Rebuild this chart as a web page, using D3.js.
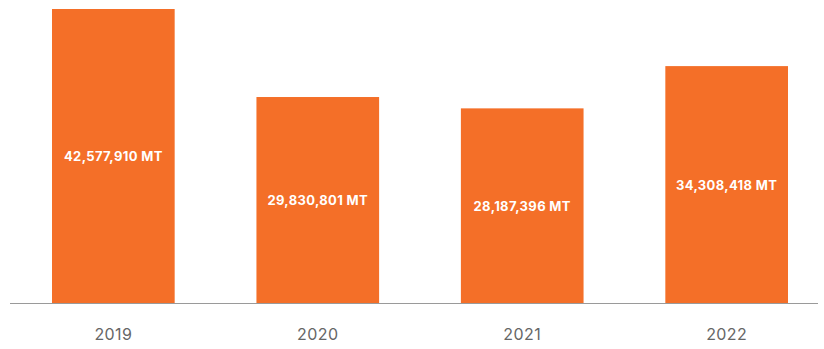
<!DOCTYPE html>
<html>
<head>
<meta charset="utf-8">
<script src="https://cdn.jsdelivr.net/npm/d3@7"></script>
<style>
  html, body { margin: 0; padding: 0; background: #fff; }
  svg { display: block; }
</style>
</head>
<body>
<svg id="chart" width="824" height="349"></svg>
<script>
// Annual volume, metric tonnes
const years = ["2019", "2020", "2021", "2022"];
const volumes = [42577910, 29830801, 28187396, 34308418];

const svg = d3.select("#chart");
const baseY = 303;
const topY = 9;

const x = d3.scaleBand()
  .domain(years)
  .range([52, 788])
  .paddingInner(0.4)
  .paddingOuter(0);

const y = d3.scaleLinear()
  .domain([0, d3.max(volumes)])
  .range([baseY, topY]);

const data = years.map((yr, i) => ({ year: yr, value: volumes[i] }));

// bars
svg.append("g")
  .selectAll("rect")
  .data(data)
  .join("rect")
  .attr("x", d => x(d.year))
  .attr("width", x.bandwidth())
  .attr("y", d => y(d.value))
  .attr("height", d => y(0) - y(d.value))
  .attr("fill", "#F46F28");

// baseline
svg.append("line")
  .attr("x1", 10).attr("x2", 818)
  .attr("y1", baseY + 0.5).attr("y2", baseY + 0.5)
  .attr("stroke", "#9a9a9a")
  .attr("stroke-width", 1);

// value labels centred in each bar
const fmt = d3.format(",");
svg.append("g")
  .selectAll("text")
  .data(data)
  .join("text")
  .attr("x", d => x(d.year) + x.bandwidth() / 2)
  .attr("y", d => (y(d.value) + y(0)) / 2)
  .attr("text-anchor", "middle")
  .attr("dominant-baseline", "central")
  .attr("fill", "#fff")
  .attr("font-family", "Inter, 'Open Sans', sans-serif")
  .attr("font-weight", 700)
  .attr("font-size", 13)
  .attr("letter-spacing", 0.35)
  .text(d => fmt(d.value) + " MT");

// x axis labels
const axis = d3.axisBottom(x).tickSize(0).tickPadding(0);
const ag = svg.append("g")
  .attr("transform", `translate(0,${baseY})`)
  .call(axis);
ag.select(".domain").remove();
ag.selectAll("text")
  .attr("y", 37)
  .attr("dy", "0")
  .attr("fill", "#666")
  .attr("font-family", "Inter, 'Open Sans', sans-serif")
  .attr("font-size", 16)
  .attr("letter-spacing", 0.4);
</script>
</body>
</html>
